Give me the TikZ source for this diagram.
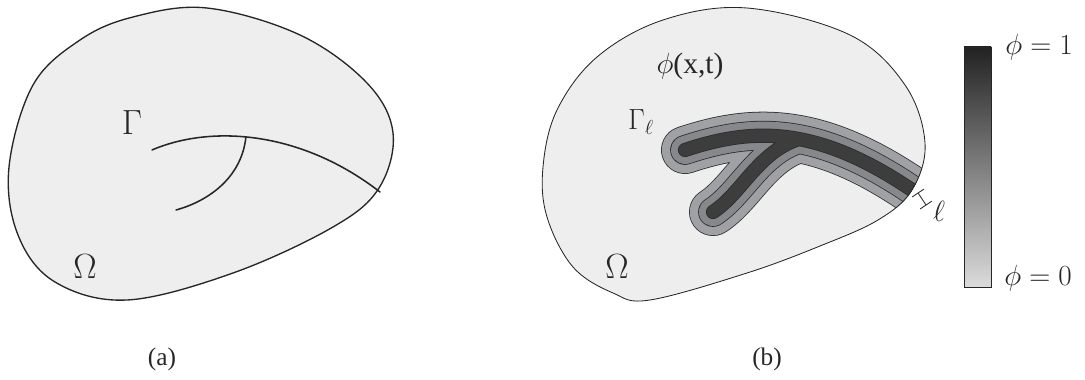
\documentclass[tikz,border=0pt]{standalone}
\usepackage{fontspec}
\setmainfont{Liberation Serif}
\usetikzlibrary{calc}
\definecolor{paper}{HTML}{EEEEEE}
\definecolor{ink}{HTML}{262626}
\definecolor{bandline}{HTML}{2B2B2D}
\definecolor{bandout}{HTML}{A0A1A4}
\definecolor{bandmid}{HTML}{87888C}
\definecolor{bandcore}{HTML}{3D3D3E}
\definecolor{bartop}{HTML}{222222}
\definecolor{barbot}{HTML}{DBDBDC}
\tikzset{
  % the domain; the argument is the outline width
  domain/.style={fill=paper, draw=ink, line width=#1},
  crack/.style={draw=ink, line width=1.1pt, line cap=round},
  lab/.style={font=\fontsize{#1}{#1}\selectfont, inner sep=0pt, text=ink},
}

\begin{document}
\begin{tikzpicture}[x=0.025cm,y=-0.025cm]
  \useasboundingbox (0,0) rectangle (1085,380);

  % (a) domain with the crack
  \draw[domain=0.95pt] plot[smooth cycle, tension=0.6] coordinates {
    (207,8) (300,35) (367,83) (393,133) (379,188) (333,227) (233,273)
    (127,300) (55,282) (18,235) (9,167) (33,85) (80,40) (133,17)};
  \coordinate (ga) at (152,150);
  \coordinate (gb) at (380,192);
  \draw[crack] (ga) .. controls (210,125) and (300,130) .. (gb)
    coordinate[pos=0.45] (gj);
  \coordinate (gc) at (176,210);
  \draw[crack] (gj) .. controls (242,175) and (212,200) .. (gc);
  \node[lab=27] (gamma) at (132,123) {$\Gamma$};
  \node[lab=26] (omegaa) at (85,267) {$\Omega$};
  \node[lab=18] (capa) at (162,359) {(a)};

  % (b) domain with the diffuse crack
  \def\domb{plot[smooth cycle, tension=0.6] coordinates {
    (747,8) (850,35) (905,85) (925,143) (912,190) (878,220) (820,246)
    (747,273) (650,300) (613,293) (573,267) (547,217) (543,167)
    (557,110) (597,57) (663,20)}}
  \fill[paper] \domb;
  \coordinate (armtip) at (685,150);
  \coordinate (armend) at (945,214);
  \coordinate (foottip) at (713,212);
  \coordinate (footend) at (799,139);
  \begin{scope}
    \clip \domb;
    \foreach \w/\c in {33/bandout, 20/bandmid, 9/bandcore}{
      \pgfmathsetmacro\wb{\w+1.1}
      \draw[bandline, line width=\wb pt, line cap=round, line join=round]
        (armtip) .. controls (760,125) and (830,125) .. (armend)
        (foottip) .. controls (742,193) and (758,152) .. (footend);
      \draw[\c, line width=\w pt, line cap=round, line join=round]
        (armtip) .. controls (760,125) and (830,125) .. (armend)
        (foottip) .. controls (742,193) and (758,152) .. (footend);
    }
  \end{scope}
  \draw[draw=ink, line width=0.6pt] \domb;

  % width marker
  \coordinate (la) at (918,193);
  \coordinate (lb) at (926,205);
  \draw[ink, line width=0.6pt] (la) -- (lb);
  \draw[ink, line width=0.6pt] ($(la)!5pt!90:(lb)$) -- ($(la)!5pt!-90:(lb)$);
  \draw[ink, line width=0.6pt] ($(lb)!5pt!90:(la)$) -- ($(lb)!5pt!-90:(la)$);
  \node[lab=21] (ell) at (939,211) {$\ell$};

  \node[lab=21] (phixt) at (690,66) {$\phi$(x,t)};
  \node[lab=22] (gammal) at (641,122) {$\Gamma_{\ell}$};
  \node[lab=25] (omegab) at (617,267) {$\Omega$};
  \node[lab=18] (capb) at (767,359) {(b)};

  % colour bar
  \shade[top color=bartop, bottom color=barbot] (964,47) rectangle (991,287);
  \draw[ink, line width=0.6pt] (964,47) rectangle (991,287);
  \node[lab=21, anchor=west] (phione) at (1005,47) {$\phi = 1$};
  \node[lab=21, anchor=west] (phizero) at (1004,278) {$\phi = 0$};
\end{tikzpicture}
\end{document}
